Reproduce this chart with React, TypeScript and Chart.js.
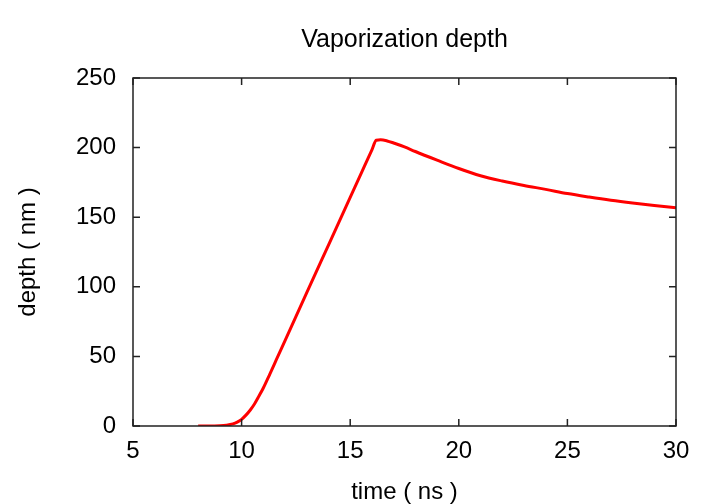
import React, { useEffect, useRef } from "react";
import { Chart, registerables } from "chart.js";

Chart.register(...registerables);

const times = [8, 8.5, 9, 9.3, 9.6, 9.8, 10, 10.2, 10.4, 10.6, 10.8, 11, 11.3, 11.6, 12, 13, 14, 15, 15.5, 16, 16.2, 16.4, 16.7, 17, 17.5, 18, 19, 20, 21, 22, 23, 24, 25, 26, 27, 28, 29, 30];
const depths = [0, 0, 0.2, 0.6, 1.5, 2.8, 4.8, 7.8, 11.5, 16, 21.5, 27.3, 37.3, 47.6, 61.4, 95.8, 130, 164.2, 181.3, 198.4, 205.3, 205.6, 204.8, 203.3, 200.5, 197.2, 191, 185, 179.8, 176, 172.8, 170, 167, 164.5, 162.2, 160.2, 158.4, 156.8];
const xTicks = [5, 10, 15, 20, 25, 30];
const yTicks = [0, 50, 100, 150, 200, 250];
const titleText = "Vaporization depth";
const xTitle = "time ( ns )";
const yTitle = "depth ( nm )";

const FONT = "'Liberation Sans', Arial, Helvetica, sans-serif";

const framePlugin = {
  id: "frame",
  afterDatasetsDraw(chart: any) {
    const { ctx, chartArea } = chart;
    const { left, right, top, bottom } = chartArea;
    const xs = chart.scales.x;
    const ys = chart.scales.y;
    const tl = 7;
    ctx.save();
    ctx.strokeStyle = "#222";
    ctx.lineWidth = 1.5;
    ctx.beginPath();
    ctx.rect(left, top, right - left, bottom - top);
    ctx.stroke();
    ctx.beginPath();
    xTicks.forEach((v) => {
      const px = xs.getPixelForValue(v);
      ctx.moveTo(px, bottom);
      ctx.lineTo(px, bottom - tl);
      ctx.moveTo(px, top);
      ctx.lineTo(px, top + tl);
    });
    yTicks.forEach((v) => {
      const py = ys.getPixelForValue(v);
      ctx.moveTo(left, py);
      ctx.lineTo(left + tl, py);
      ctx.moveTo(right, py);
      ctx.lineTo(right - tl, py);
    });
    ctx.stroke();
    ctx.restore();
  },
};

export default function App() {
  const ref = useRef<HTMLCanvasElement | null>(null);
  useEffect(() => {
    if (!ref.current) return;
    const chart = new Chart(ref.current, {
      type: "line",
      data: {
        datasets: [
          {
            data: times.map((t, i) => ({ x: t, y: depths[i] })),
            borderColor: "#ff0000",
            borderWidth: 3,
            pointRadius: 0,
            fill: false,
            cubicInterpolationMode: "monotone",
          },
        ],
      },
      options: {
        animation: false,
        responsive: false,
        events: [],
        color: "#000",
        layout: { padding: { left: 0, right: 44, top: 0, bottom: 0 } },
        plugins: {
          legend: { display: false },
          tooltip: { enabled: false },
          title: {
            display: true,
            text: titleText,
            fullSize: false,
            color: "#000",
            font: { family: FONT, size: 25, weight: "normal", lineHeight: 1 },
            padding: { top: 28, bottom: 25 },
          },
        },
        scales: {
          x: {
            type: "linear",
            min: 5,
            max: 30,
            grid: { display: false, drawTicks: false },
            border: { display: false },
            ticks: {
              stepSize: 5,
              color: "#000",
              padding: 13,
              maxRotation: 0,
              font: { family: FONT, size: 24, lineHeight: 1 },
            },
            title: {
              display: true,
              text: xTitle,
              color: "#000",
              font: { family: FONT, size: 24, lineHeight: 1 },
              padding: { top: 0, bottom: 0 },
            },
            afterFit(scale: any) {
              scale.height = 78;
            },
          },
          y: {
            type: "linear",
            min: 0,
            max: 250,
            grid: { display: false, drawTicks: false },
            border: { display: false },
            ticks: {
              stepSize: 50,
              color: "#000",
              padding: 17,
              font: { family: FONT, size: 24, lineHeight: 1 },
            },
            title: {
              display: true,
              text: yTitle,
              color: "#000",
              font: { family: FONT, size: 24, lineHeight: 1 },
              padding: { top: 16, bottom: 0 },
            },
            afterFit(scale: any) {
              scale.width = 133;
            },
          },
        },
      },
      plugins: [framePlugin],
    } as any);
    return () => chart.destroy();
  }, []);
  return (
    <div style={{ position: "fixed", left: 0, top: 0, width: 720, height: 504, background: "#fff" }}>
      <canvas ref={ref} width={720} height={504} />
    </div>
  );
}
